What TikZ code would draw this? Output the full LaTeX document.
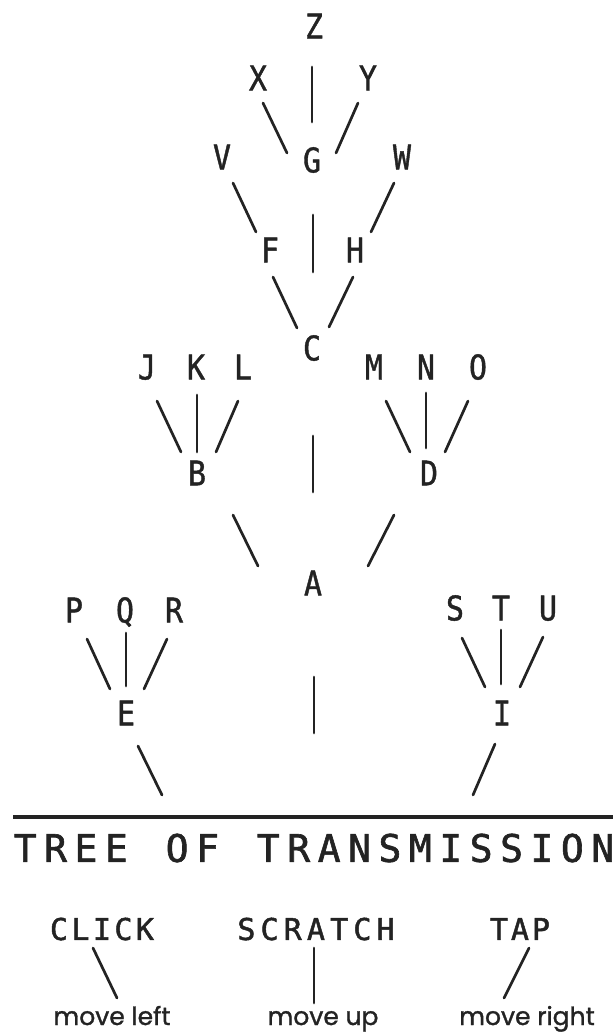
\documentclass[tikz,border=0pt]{standalone}
\usepackage{fontspec}
\newfontfamily\nodefont[FakeStretch=0.88,FakeBold=1.2]{DejaVu Sans Mono}
\newfontfamily\titlefont[FakeBold=1.6]{DejaVu Sans Mono}
\newfontfamily\lowfont[FakeBold=1.3]{Poppins}
\definecolor{ink}{RGB}{35,35,35}
\makeatletter
\newcommand\spacedword[2]{\@tfor\ch:=#2\do{\makebox[#1]{\ch}}}
\makeatother
\tikzset{
  lt/.style={font=\nodefont\fontsize{34}{34}\selectfont, text=ink, inner sep=0pt, text height=24.8pt, text depth=0pt, anchor=center},
  ttl/.style={font=\titlefont\fontsize{38}{38}\selectfont, text=ink, inner sep=0pt, text height=27.7pt, text depth=0pt},
  snd/.style={font=\titlefont\fontsize{30}{30}\selectfont, text=ink, inner sep=0pt, text height=21.9pt, text depth=0pt, anchor=center},
  mv/.style={font=\lowfont\fontsize{25}{25}\selectfont, text=ink, inner sep=0pt, anchor=base},
  ln/.style={draw=ink, line width=2.7pt, line cap=round},
}
\begin{document}
\begin{tikzpicture}[x=1pt,y=-1pt]
\useasboundingbox (0,0) rectangle (613,1035);
% letters
\node[lt] (Z) at (314,26) {Z};
\node[lt] (X) at (258,78) {X};
\node[lt] (Y) at (368,78) {Y};
\node[lt] (V) at (222,157) {V};
\node[lt] (G) at (312,160) {G};
\node[lt] (W) at (402,157) {W};
\node[lt] (F) at (270,250) {F};
\node[lt] (H) at (355,250) {H};
\node[lt] (C) at (312,348) {C};
\node[lt] (J) at (147,367) {J};
\node[lt] (K) at (196,367) {K};
\node[lt] (L) at (243,367) {L};
\node[lt] (M) at (374,367) {M};
\node[lt] (N) at (426,367) {N};
\node[lt] (O) at (478,367) {O};
\node[lt] (B) at (197,473) {B};
\node[lt] (D) at (429,473) {D};
\node[lt] (A) at (313,583) {A};
\node[lt] (P) at (74,610) {P};
\node[lt] (Q) at (125,610) {Q};
\node[lt] (R) at (174,610) {R};
\node[lt] (S) at (455,608) {S};
\node[lt] (T) at (501,608) {T};
\node[lt] (U) at (548,608) {U};
\node[lt] (E) at (126,713) {E};
\node[lt] (I) at (502,713) {I};
% connectors
\draw[ln] ([shift={(-2,41)}]Z.center) -- ([shift={(0,-38)}]G.center);
\draw[ln] ([shift={(5,25)}]X.center) -- ([shift={(-25,-7)}]G.center);
\draw[ln] ([shift={(-10,25)}]Y.center) -- ([shift={(24,-7)}]G.center);
\draw[ln] ([shift={(11,26)}]V.center) -- ([shift={(-14,-18)}]F.center);
\draw[ln] ([shift={(-8,26)}]W.center) -- ([shift={(16,-18)}]H.center);
\draw[ln] ([shift={(1,55)}]G.center) -- ([shift={(1,-76)}]C.center);
\draw[ln] ([shift={(3,27)}]F.center) -- ([shift={(-15,-20)}]C.center);
\draw[ln] ([shift={(-2,27)}]H.center) -- ([shift={(17,-21)}]C.center);
\draw[ln] ([shift={(10,34)}]J.center) -- ([shift={(-16,-21)}]B.center);
\draw[ln] ([shift={(1,28)}]K.center) -- ([shift={(0,-21)}]B.center);
\draw[ln] ([shift={(-5,34)}]L.center) -- ([shift={(19,-21)}]B.center);
\draw[ln] ([shift={(12,34)}]M.center) -- ([shift={(-19,-21)}]D.center);
\draw[ln] ([shift={(0,26)}]N.center) -- ([shift={(-3,-25)}]D.center);
\draw[ln] ([shift={(-10,34)}]O.center) -- ([shift={(16,-21)}]D.center);
\draw[ln] ([shift={(1,88)}]C.center) -- ([shift={(0,-91)}]A.center);
\draw[ln] ([shift={(36,42)}]B.center) -- ([shift={(-55,-17)}]A.center);
\draw[ln] ([shift={(-35,42)}]D.center) -- ([shift={(55,-17)}]A.center);
\draw[ln] ([shift={(13,29)}]P.center) -- ([shift={(-16,-24)}]E.center);
\draw[ln] ([shift={(1,23)}]Q.center) -- ([shift={(0,-27)}]E.center);
\draw[ln] ([shift={(-7,29)}]R.center) -- ([shift={(18,-24)}]E.center);
\draw[ln] ([shift={(7,30)}]S.center) -- ([shift={(-17,-26)}]I.center);
\draw[ln] ([shift={(0,22)}]T.center) -- ([shift={(-1,-29)}]I.center);
\draw[ln] ([shift={(-5,29)}]U.center) -- ([shift={(18,-26)}]I.center);
% trunks to ground
\coordinate (gA) at (314,733);
\coordinate (gE) at (162,795);
\coordinate (gI) at (473,795);
\draw[ln] ([shift={(1,94)}]A.center) -- (gA);
\draw[ln] ([shift={(12,33)}]E.center) -- (gE);
\draw[ln] ([shift={(-7,31)}]I.center) -- (gI);
% ground rule
\coordinate (ruleL) at (13,817);
\coordinate (ruleR) at (613,817);
\draw[draw=ink, line width=3.2pt] (ruleL) -- (ruleR);
% title
\node[ttl, anchor=west] (title) at (9.8,848) {\spacedword{30.4pt}{TREE}\makebox[30.4pt]{}\spacedword{30.4pt}{OF}\makebox[30.4pt]{}\spacedword{30.4pt}{TRANSMISSION}};
% legend
\node[snd] (click) at (102,929) {\spacedword{21.5pt}{CLICK}};
\node[snd] (scratch) at (316,929) {\spacedword{23.2pt}{SCRATCH}};
\node[snd] (tap) at (520,929) {\spacedword{21pt}{TAP}};
\node[mv] (ml) at (112,1025) {move left};
\node[mv] (mu) at (323,1025) {move up};
\node[mv] (mr) at (527,1025) {move right};
\draw[ln] ([shift={(-9,19)}]click.center) -- ([shift={(5,-27)}]ml.base);
\draw[ln] ([shift={(-2,19)}]scratch.center) -- ([shift={(-9,-22)}]mu.base);
\draw[ln] ([shift={(9,19)}]tap.center) -- ([shift={(-23,-27)}]mr.base);
\end{tikzpicture}
\end{document}
